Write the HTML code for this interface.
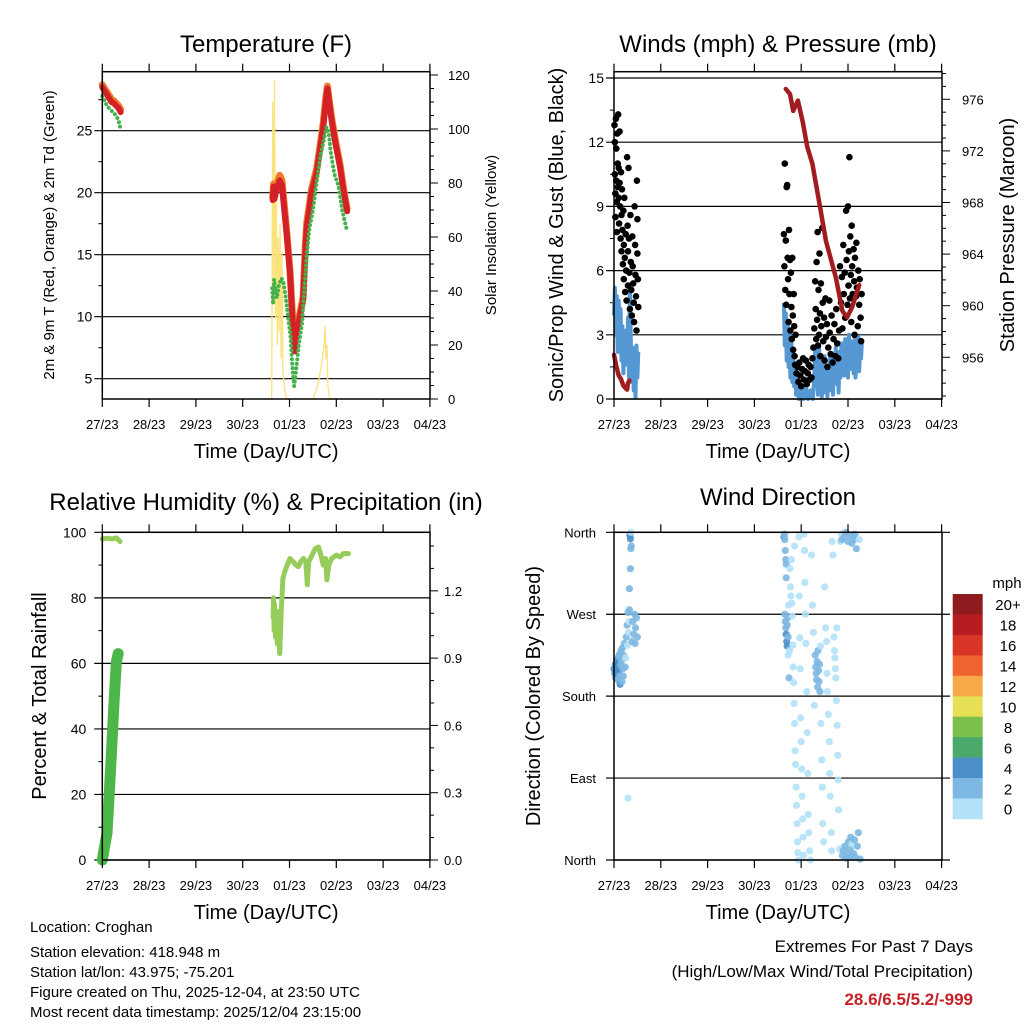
<!DOCTYPE html>
<html><head><meta charset="utf-8"><style>
html,body{margin:0;padding:0;background:#fff;}
svg{display:block;font-family:"Liberation Sans",Arial,sans-serif;}
</style></head><body>
<svg id="chart" width="1024" height="1024" viewBox="0 0 1024 1024">
<rect width="1024" height="1024" fill="#fff"/>
<g id="layer"></g>
</svg>
<script>
// ---------- data ----------
const dayLabels=["27/23","28/23","29/23","30/23","01/23","02/23","03/23","04/23"];
const tempTicks=[5,10,15,20,25];
const solarTicks=[0,20,40,60,80,100,120];
const windTicks=[0,3,6,9,12,15];
const presTicks=[956,960,964,968,972,976];
const rhTicks=[0,20,40,60,80,100];
const precipTicks=["0.0","0.3","0.6","0.9","1.2"];
const dirTicks=["North","East","South","West","North"];
const speedBins=["0","2","4","6","8","10","12","14","16","18","20+"];
const speedColors=["#b3e1f7","#7db8e2","#4a8fc7","#4aa86d","#7cc04c","#e5e055","#f7a847","#ee632f","#d83527","#b71c22","#8f1b1e"];

const t2Days=[0,0.05,0.1,0.15,0.2,0.25,0.3,0.35,0.39,null,3.64,3.66,3.68,3.71,3.74,3.79,3.84,3.88,3.94,4.01,4.08,4.11,4.15,4.18,4.29,4.34,4.37,4.42,4.47,4.58,4.65,4.72,4.78,4.81,4.85,4.91,4.98,5.08,5.16,5.23];
const t2Vals=[28.5,28.2,27.9,27.6,27.3,27.2,27.0,26.8,26.5,null,19.4,20.5,19.5,20.0,20.4,21.0,20.6,19.0,16.7,13.5,8.7,7.2,8.8,9.2,11.3,15.5,17.3,18.6,20.0,21.6,23.4,25.3,27.5,28.4,27.2,25.6,24.0,22.1,20.0,18.5];
const t9Vals=[28.7,28.4,28.1,27.8,27.5,27.4,27.2,27.0,26.7,null,19.6,20.7,19.8,20.3,20.8,21.4,21.0,19.3,16.9,13.7,9.0,7.6,9.1,9.5,11.6,15.8,17.6,18.9,20.3,21.9,23.7,25.6,27.8,28.6,27.4,25.8,24.2,22.3,20.2,18.7];
const tdDays=[0,0.05,0.1,0.15,0.2,0.25,0.3,0.34,0.37,0.39,null,3.63,3.65,3.67,3.7,3.73,3.77,3.83,3.87,3.92,3.97,4.02,4.07,4.1,4.15,4.2,4.27,4.32,4.37,4.42,4.5,4.58,4.66,4.72,4.79,4.84,4.88,4.96,5.05,5.13,5.23];
const tdVals=[27.8,27.4,27.0,26.8,26.6,26.4,26.2,25.9,25.5,25.1,null,12.3,11.0,13.0,12.0,11.5,12.5,13.1,12.8,11.5,10.0,8.5,5.5,4.4,6.0,7.8,9.5,12.5,15.0,17.0,18.6,20.8,23.0,24.0,25.3,24.8,23.3,21.5,20.5,18.5,16.9];
const solarDays=[3.62,3.64,3.66,3.68,3.7,3.72,3.74,3.76,3.78,3.8,3.82,3.84,3.86,3.9,3.94,4.5,4.6,4.68,4.74,4.76,4.78,4.8,4.82,4.86,5.0];
const solarVals=[0,110,40,118,30,75,20,60,25,65,15,55,10,3,0,0,5,12,20,27,15,20,5,0,0];

const gustDays=[0.01,0.02,0.02,0.03,0.03,0.04,0.05,0.05,0.06,0.06,0.07,0.08,0.08,0.09,0.1,0.1,0.11,0.12,0.12,0.13,0.14,0.15,0.16,0.16,0.17,0.18,0.19,0.2,0.21,0.21,0.22,0.23,0.24,0.25,0.26,0.27,0.28,0.29,0.3,0.3,0.31,0.32,0.33,0.34,0.35,0.36,0.37,0.38,0.39,0.4,0.41,0.42,0.43,0.44,0.45,0.46,0.47,0.48,0.49,0.5,0.5,0.51,0.52,
3.63,3.64,3.65,3.66,3.67,3.68,3.69,3.7,3.71,3.72,3.73,3.74,3.75,3.76,3.77,3.78,3.79,3.8,3.81,3.82,3.83,3.84,3.85,3.86,3.87,3.88,3.9,3.92,3.94,3.96,3.98,4.0,4.02,4.04,4.06,4.08,4.1,4.12,4.14,4.16,4.18,4.2,4.22,4.24,4.26,4.28,4.3,4.31,4.32,4.33,4.34,4.35,4.36,4.37,4.38,4.39,4.4,4.41,4.42,4.43,4.45,4.46,4.47,4.49,4.5,4.52,4.53,4.55,4.56,4.58,4.6,4.61,4.63,4.65,4.67,4.69,4.71,4.73,4.75,4.77,4.79,4.81,4.83,4.85,4.87,4.88,4.9,4.91,4.93,4.94,4.96,4.97,4.99,5.0,5.01,5.02,5.03,5.04,5.05,5.06,5.07,5.08,5.09,5.1,5.12,5.13,5.14,5.15,5.17,5.18,5.19,5.21,5.22,5.24,5.25,5.27,5.28,5.29];
const gustVals=[12.8,12.0,10.5,9.6,8.5,13.1,11.7,10.2,9.2,7.8,12.4,11.0,9.9,13.3,10.8,9.4,8.2,12.5,10.1,9.0,7.5,10.6,8.6,6.9,9.8,7.9,6.3,8.8,7.2,5.6,9.4,6.6,5.0,7.7,6.0,4.6,11.3,8.1,6.9,5.3,10.8,7.5,5.9,4.2,8.6,6.4,5.1,3.9,7.6,6.2,5.4,4.5,3.6,9.0,7.2,5.8,4.8,3.2,10.2,8.4,6.8,5.6,4.3,
7.7,6.2,11.0,5.1,7.4,4.4,9.9,10.0,6.6,5.6,3.6,7.9,4.9,6.5,3.2,5.9,4.3,2.8,6.6,3.9,2.3,4.9,3.4,2.0,1.6,3.0,1.2,1.5,0.8,1.7,1.1,0.6,1.4,1.9,0.9,1.3,1.8,0.7,1.2,1.6,0.9,1.5,1.0,1.9,2.4,3.3,5.5,4.2,2.8,6.4,3.7,7.8,2.5,5.1,3.0,6.8,4.0,2.0,5.4,3.4,8.0,4.5,2.7,3.8,1.8,4.7,2.9,3.5,1.5,2.4,4.6,3.1,2.1,3.9,1.7,2.8,3.5,2.0,4.2,2.6,1.9,3.2,6.2,4.5,5.7,3.3,7.2,4.9,5.9,3.8,8.8,6.5,4.4,9.0,5.3,6.9,11.3,4.7,7.6,5.8,3.6,8.1,6.2,4.9,7.0,5.5,3.0,6.6,4.8,7.3,5.2,3.4,6.0,4.4,5.6,3.8,2.7,4.9];
const windDays=[0,0.02,0.04,0.06,0.08,0.1,0.12,0.14,0.16,0.18,0.2,0.22,0.24,0.26,0.28,0.3,0.32,0.34,0.36,0.38,0.4,0.42,0.44,0.46,0.48,0.5,0.52,null,
3.63,3.65,3.67,3.69,3.71,3.73,3.75,3.77,3.79,3.81,3.83,3.85,3.87,3.89,3.92,3.95,4.0,4.05,4.1,4.15,4.2,4.25,4.28,4.3,4.32,4.34,4.36,4.38,4.4,4.42,4.44,4.46,4.48,4.5,4.52,4.54,4.56,4.58,4.6,4.62,4.64,4.66,4.68,4.7,4.72,4.74,4.76,4.78,4.8,4.82,4.84,4.86,4.88,4.9,4.92,4.94,4.96,4.98,5.0,5.02,5.04,5.06,5.08,5.1,5.12,5.14,5.16,5.18,5.2,5.22,5.24,5.26,5.28,5.3];
const windVals=[3.9,5.2,3.0,4.8,2.2,4.6,2.8,4.2,1.8,3.4,1.2,2.6,1.6,3.2,2.0,3.8,1.0,5.2,2.8,0.8,2.4,0.4,1.8,0.1,2.5,1.0,2.2,null,
4.5,2.5,4.0,1.8,3.6,1.5,3.0,1.0,2.7,0.8,2.2,0.6,1.6,0.2,1.0,0,0.5,0,0.6,0,0.4,0,1.0,2.4,0.6,1.8,0.2,2.5,0.8,1.6,0.1,1.2,0.3,2.0,0.5,1.3,0.1,1.5,0.4,2.1,0.6,1.4,0.2,1.9,0.9,2.4,0.7,1.6,0.3,2.2,1.0,2.6,1.4,2.3,1.1,2.8,1.5,2.5,1.0,3.0,1.4,2.7,1.6,2.4,1.2,2.8,1.0,2.2,1.8,2.9,1.3,2.6,1.9,2.8];
const presDays=[0,0.05,0.1,0.15,0.2,0.25,0.28,0.3,0.33,null,3.67,3.76,3.83,3.93,4.03,4.13,4.24,4.39,4.53,4.74,4.88,4.98,5.09,5.24];
const presVals=[956.2,955.3,954.6,954.3,953.8,953.6,953.5,954.0,954.2,null,976.8,976.4,975.1,975.9,974.3,972.3,971.0,967.9,965.0,962.2,959.6,959.1,959.9,961.6];

const rhDays=[0,0.1,0.2,0.3,0.38,null,3.65,3.66,3.67,3.68,3.7,3.72,3.74,3.76,3.79,3.82,3.86,3.9,3.95,4.01,4.08,4.14,4.19,4.24,4.3,4.35,4.38,4.41,4.48,4.55,4.62,4.67,4.72,4.77,4.8,4.84,4.9,5.0,5.08,5.15,5.26];
const rhVals=[98,98.2,98,98.3,97.2,null,74,80,70,78,68,76,66,72,63,75,86,88,90,92,91,90,89.5,91,92,91,84,91,93,95,95.5,93,90,92,85.5,90,92,93,92.5,93.5,93.5];
const precipDays=[0,0.05,0.1,0.15,0.2,0.25,0.3,0.34];
const precipVals=[0,0.06,0.12,0.3,0.5,0.7,0.88,0.92];

const dirDays=[0.0,0.02,0.03,0.04,0.05,0.06,0.07,0.08,0.08,0.1,0.1,0.12,0.12,0.13,0.14,0.15,0.16,0.17,0.18,0.19,0.2,0.2,0.22,0.24,0.25,0.26,0.28,0.29,0.3,0.3,0.31,0.32,0.33,0.33,0.34,0.35,0.35,0.36,0.36,0.37,0.38,0.4,0.42,0.44,0.45,0.46,0.48,0.5,
3.63,3.64,3.65,3.66,3.67,3.68,3.68,3.65,3.66,3.67,3.68,3.69,3.7,3.7,3.71,3.72,3.72,3.73,3.74,3.75,3.76,3.77,3.78,3.79,3.8,3.81,3.82,3.83,3.84,3.85,3.86,3.86,3.87,3.88,3.89,3.9,3.91,3.92,3.93,3.94,3.95,3.96,3.97,3.98,3.99,4.0,4.01,4.02,4.03,4.04,4.05,4.06,4.07,4.08,4.09,4.1,4.12,4.13,4.14,4.15,4.16,4.18,4.2,4.22,4.24,4.26,4.28,4.3,4.31,4.32,4.33,4.34,4.35,4.36,4.37,4.38,4.39,4.4,4.41,4.42,4.44,4.45,4.46,4.48,4.5,4.52,4.54,4.55,4.56,4.58,4.6,4.61,4.62,4.64,4.65,4.66,4.68,4.7,4.71,4.72,4.73,4.74,4.75,4.76,4.77,4.78,4.79,4.8,4.82,4.84,4.86,4.87,4.88,4.9,4.92,4.93,4.95,4.96,4.98,5.0,5.01,5.02,5.04,5.05,5.06,5.07,5.08,5.09,5.1,5.12,5.13,5.14,5.15,5.16,5.18,5.2,5.22,5.24,5.26];
const dirVals=[210,205,215,200,212,220,206,198,216,224,208,202,226,193,214,230,219,196,233,210,225,202,238,212,222,245,258,236,272,68,250,262,275,298,357,353,320,342,360,345,240,262,248,270,238,255,266,245,
355,358,352,340,330,325,310,270,262,255,248,240,258,235,266,245,225,280,200,230,320,300,290,330,282,268,236,212,195,172,150,345,120,105,80,60,40,20,8,0,355,290,244,210,156,130,100,70,45,25,5,358,340,305,270,238,185,140,95,50,30,10,0,335,280,250,170,225,212,205,198,218,190,230,208,196,215,185,235,150,110,80,40,20,300,255,240,205,185,160,130,95,70,30,10,350,335,245,230,222,210,200,175,255,148,115,88,55,12,350,358,352,5,10,355,15,2,360,8,350,20,3,357,12,25,5,348,18,355,7,352,22,358,3,342,15,30,352,1];
const dirSpeeds=[4,4,4,4,5,4,4,3,4,3,4,3,3,4,2,3,3,2,3,2,3,2,2,3,1,2,2,1,2,1,1,1,3,3,4,4,3,3,1,2,2,2,3,3,3,2,2,2,
4,2,2,2,2,2,3,3,2,3,4,4,3,4,2,3,1,1,3,1,1,1,1,1,1,1,1,1,1,1,1,1,1,1,1,1,1,1,1,1,1,1,1,1,1,1,1,1,1,1,1,1,1,1,1,1,1,1,1,1,1,1,1,1,1,1,1,2,2,3,2,2,2,2,3,2,2,2,1,1,1,1,1,1,1,1,1,1,1,1,1,1,1,1,1,1,1,1,1,1,1,1,1,1,1,1,1,1,1,1,1,2,2,2,2,2,2,2,2,2,2,2,2,2,2,2,3,1,2,2,3,2,2,2,2,2,2,1,2,1,2];

// ---------- helpers ----------
const NS="http://www.w3.org/2000/svg";
const layer=document.getElementById('layer');
function mk(tag,attrs,parent){const e=document.createElementNS(NS,tag);for(const k in attrs)e.setAttribute(k,attrs[k]);(parent||layer).appendChild(e);return e;}
function txt(x,y,s,size,anchor,extra){const e=mk('text',Object.assign({x:x,y:y,'font-size':size,'text-anchor':anchor||'middle',fill:'#000'},extra||{}));e.textContent=s;return e;}
const DAYW=46.8;
function pathFrom(days,vals,fx,fy){let d='',pen=false;for(let i=0;i<days.length;i++){if(days[i]===null||vals[i]===null){pen=false;continue;}d+=(pen?'L':'M')+fx(days[i]).toFixed(1)+','+fy(vals[i]).toFixed(1);pen=true;}return d;}

function frame(x0,x1,y0,y1,name){
  const r=mk('rect',{x:x0,y:y0,width:x1-x0,height:y1-y0,fill:'none',stroke:'#000','stroke-width':1.5});
  
  
  for(let i=0;i<dayLabels.length;i++){
    const x=x0+i*DAYW;
    mk('line',{x1:x,x2:x,y1:y0,y2:y0-8,stroke:'#000','stroke-width':1.2});
    mk('line',{x1:x,x2:x,y1:y1,y2:y1+8,stroke:'#000','stroke-width':1.2});
    const t=txt(x,y1+30,dayLabels[i],13);
    
    
  }
  const at=txt((x0+x1)/2,y1+59,'Time (Day/UTC)',20);
  
  
}
function hgrid(x0,x1,y){mk('line',{x1:x0-8,x2:x1,y1:y,y2:y,stroke:'#000','stroke-width':1.2});}
function ltick(x0,y,len){mk('line',{x1:x0,x2:x0-len,y1:y,y2:y,stroke:'#000','stroke-width':1});}
function rtick(x1,y,len){mk('line',{x1:x1,x2:x1+len,y1:y,y2:y,stroke:'#000','stroke-width':1});}
function title(x,y,s,name){const t=txt(x,y,s,24);}
function vlabel(x,y,s,size,name){const t=txt(0,0,s,size,'middle',{transform:'translate('+x+','+y+') rotate(-90)'});}

// ---------- Temperature panel ----------
(function(){
  const x0=102.3,x1=430,y0=71.7,y1=399;
  const fx=d=>x0+d*DAYW, fy=t=>130.7+(25-t)*12.4, fs=v=>399-v*2.7;
  tempTicks.forEach(t=>{hgrid(x0,x1,fy(t));const l=txt(x0-10,fy(t)+5,String(t),14,'end');if(t>5)ltick(x0,fy(t-2.5),4);});
  ltick(x0,fy(27.5),4);
  solarTicks.forEach((v,i)=>{rtick(x1,fs(v),8);const l=txt(x1+18,fs(v)+5,String(v),13,'start');
    if(i<solarTicks.length-1){for(let k=1;k<4;k++)rtick(x1,fs(v+k*5),4);}});
  const sol=mk('path',{d:pathFrom(solarDays,solarVals,fx,fs),fill:'none',stroke:'#fbe27a','stroke-width':1.3});
  
  
  const t9=mk('path',{d:pathFrom(t2Days,t9Vals,fx,fy),fill:'none',stroke:'#f07a2c','stroke-width':7,'stroke-linejoin':'round','stroke-linecap':'round'});
  
  
  const t2=mk('path',{d:pathFrom(t2Days,t2Vals,fx,fy),fill:'none',stroke:'#d42027','stroke-width':6,'stroke-linejoin':'round','stroke-linecap':'round'});
  
  
  const td=mk('path',{d:pathFrom(tdDays,tdVals,fx,fy),fill:'none',stroke:'#45b14a','stroke-width':4,'stroke-dasharray':'0 4.5','stroke-linecap':'round'});
  
  
  frame(x0,x1,y0,y1,'temperature-plot-frame');
  title(266,52,'Temperature (F)','temperature-title');
  vlabel(54,235,'2m & 9m T (Red, Orange) & 2m Td (Green)',15,'temp-y-axis-title');
  vlabel(496,235,'Solar Insolation (Yellow)',15,'solar-y-axis-title');
})();

// ---------- Wind panel ----------
(function(){
  const x0=614,x1=942,y0=71.7,y1=399;
  const fx=d=>x0+d*DAYW, fy=v=>399-v*21.4, fp=p=>99.3+(976-p)*12.9;
  windTicks.forEach((v,i)=>{hgrid(x0,x1,fy(v));const l=txt(x0-10,fy(v)+5,String(v),14,'end');if(i<windTicks.length-1)ltick(x0,fy(v+1.5),4);});
  presTicks.forEach((p,i)=>{rtick(x1,fp(p),8);const l=txt(x1+20,fp(p)+5,String(p),13,'start');});
  for(let p=953;p<=978;p++){if(p%4!==0&&fp(p)>y0&&fp(p)<y1)rtick(x1,fp(p),4);}
  const wl=mk('path',{d:pathFrom(windDays,windVals,fx,fy),fill:'none',stroke:'#5497d2','stroke-width':4,'stroke-linejoin':'round'});
  
  
  const g=mk('g',{});
  
  
  for(let i=0;i<gustDays.length;i++){
    const c=mk('circle',{cx:fx(gustDays[i]).toFixed(1),cy:fy(gustVals[i]).toFixed(1),r:3.3,fill:'#000'},g);
    
    
  }
  const pl=mk('path',{d:pathFrom(presDays,presVals,fx,fp),fill:'none',stroke:'#a01c1f','stroke-width':4.5,'stroke-linejoin':'round','stroke-linecap':'round'});
  
  
  frame(x0,x1,y0,y1,'winds-plot-frame');
  title(778,52,'Winds (mph) & Pressure (mb)','winds-title');
  vlabel(563,235,'Sonic/Prop Wind & Gust (Blue, Black)',20,'wind-y-axis-title');
  vlabel(1014,235,'Station Pressure (Maroon)',20,'pressure-y-axis-title');
})();

// ---------- RH panel ----------
(function(){
  const x0=102.3,x1=430,y0=532.3,y1=860;
  const fx=d=>x0+d*DAYW, fy=v=>860-v*3.277, fr=v=>860-v*224.3;
  rhTicks.forEach((v,i)=>{hgrid(x0,x1,fy(v));const l=txt(x0-16,fy(v)+5,String(v),14,'end');if(i<rhTicks.length-1)ltick(x0,fy(v+10),4);});
  precipTicks.forEach((s,i)=>{const v=parseFloat(s);rtick(x1,fr(v),8);const l=txt(x1+14,fr(v)+5,s,13,'start');
    for(let k=1;k<3;k++){if(fr(v+k*0.1)>y0)rtick(x1,fr(v+k*0.1),4);}});
  const pr=mk('path',{d:pathFrom(precipDays,precipVals,fx,fr),fill:'none',stroke:'#4cb748','stroke-width':11,'stroke-linejoin':'round','stroke-linecap':'round'});
  
  
  const rh=mk('path',{d:pathFrom(rhDays,rhVals,fx,fy),fill:'none',stroke:'#96cc5a','stroke-width':5,'stroke-linejoin':'round','stroke-linecap':'round'});
  
  
  frame(x0,x1,y0,y1,'rh-plot-frame');
  title(266,510,'Relative Humidity (%) & Precipitation (in)','rh-title');
  vlabel(46,696,'Percent & Total Rainfall',20,'rh-y-axis-title');
})();

// ---------- Direction panel ----------
(function(){
  const x0=614,x1=942,y0=532.3,y1=860;
  const fx=d=>x0+d*DAYW, fy=v=>860-v*327.7/360;
  dirTicks.forEach((s,i)=>{const y=fy(i*90);mk('line',{x1:x0-8,x2:x1+8,y1:y,y2:y,stroke:'#000','stroke-width':1.2});const l=txt(x0-18,y+5,s,13,'end');});
  const g=mk('g',{});
  
  
  for(let i=0;i<dirDays.length;i++){
    const ci=Math.min(Math.floor(dirSpeeds[i]/2),10);
    const c=mk('circle',{cx:fx(dirDays[i]).toFixed(1),cy:fy(dirVals[i]).toFixed(1),r:3.6,fill:speedColors[ci],'fill-opacity':0.9},g);
    
    
  }
  frame(x0,x1,y0,y1,'direction-plot-frame');
  title(778,505,'Wind Direction','direction-title');
  vlabel(540,696,'Direction (Colored By Speed)',20,'direction-y-axis-title');
  const lg=mk('g',{});
  
  
  const mph=txt(1007,588,'mph',15,'middle');
  
  
  const bh=20.45, top=594;
  for(let i=0;i<speedBins.length;i++){
    const j=speedBins.length-1-i;
    const r=mk('rect',{x:952.7,y:(top+i*bh).toFixed(1),width:30,height:bh+0.3,fill:speedColors[j]},lg);
    
    
    const l=txt(1008,top+i*bh+bh/2+6,speedBins[j],15,'middle');
    
    
  }
})();

// ---------- footer ----------
const infoLines=["Location: Croghan","Station elevation: 418.948 m","Station lat/lon: 43.975; -75.201","Figure created on Thu, 2025-12-04, at 23:50 UTC","Most recent data timestamp: 2025/12/04 23:15:00"];
const infoY=[936,961,981,1001,1021];
infoLines.forEach((s,i)=>{const t=txt(30,infoY[i]-4,s,15,'start');});
const e1=txt(973,952,'Extremes For Past 7 Days',17,'end');


const e2=txt(973,977,'(High/Low/Max Wind/Total Precipitation)',17,'end');


const e3=txt(973,1005,'28.6/6.5/5.2/-999',17,'end',{fill:'#c62127','font-weight':'bold'});


</script>
</body></html>
